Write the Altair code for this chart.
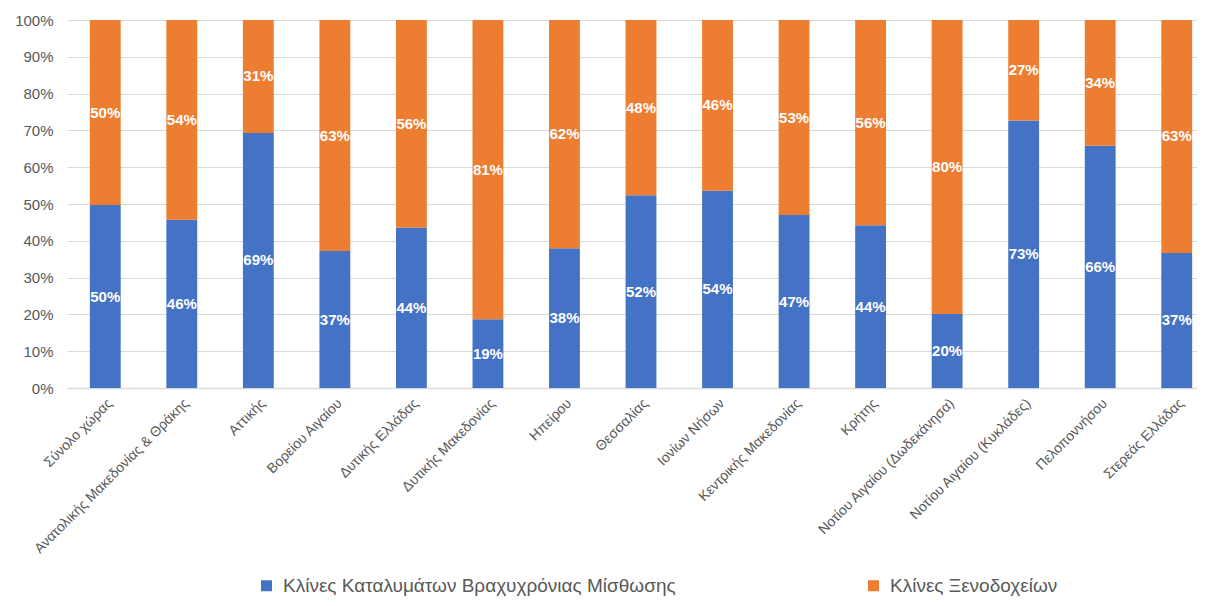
import altair as alt
import pandas as pd

regions = [
    "Σύνολο χώρας",
    "Ανατολικής Μακεδονίας & Θράκης",
    "Αττικής",
    "Βορείου Αιγαίου",
    "Δυτικής Ελλάδας",
    "Δυτικής Μακεδονίας",
    "Ηπείρου",
    "Θεσσαλίας",
    "Ιονίων Νήσων",
    "Κεντρικής Μακεδονίας",
    "Κρήτης",
    "Νοτίου Αιγαίου (Δωδεκάνησα)",
    "Νοτίου Αιγαίου (Κυκλάδες)",
    "Πελοποννήσου",
    "Στερεάς Ελλάδας",
]
short_term = [0.497, 0.457, 0.693, 0.372, 0.436, 0.187, 0.380, 0.524,
              0.536, 0.470, 0.442, 0.201, 0.727, 0.658, 0.367]
hotels = [0.503, 0.543, 0.307, 0.628, 0.564, 0.813, 0.620, 0.476,
          0.464, 0.530, 0.558, 0.799, 0.273, 0.342, 0.633]

series_names = ["Κλίνες Καταλυμάτων Βραχυχρόνιας Μίσθωσης", "Κλίνες Ξενοδοχείων"]
series_colors = ["#4472C4", "#ED7D31"]
y_ticks = [0.0, 0.1, 0.2, 0.3, 0.4, 0.5, 0.6, 0.7, 0.8, 0.9, 1.0]

rows = []
for r, a, b in zip(regions, short_term, hotels):
    rows.append({"region": r, "series": series_names[0], "value": a, "ord": 0})
    rows.append({"region": r, "series": series_names[1], "value": b, "ord": 1})
df = pd.DataFrame(rows)

FONT = "Liberation Sans"
GREY = "#595959"
X_RANGE = [0, 1148]

x_scale = alt.Scale(range=X_RANGE, paddingInner=0.597, paddingOuter=0.2985)
y_scale = alt.Scale(domain=[0, 1], nice=False)

x_axis = alt.Axis(labelAngle=-45, labelFontSize=14, labelColor=GREY, labelFont=FONT,
                  ticks=False, domainColor="#D9D9D9", domainWidth=1.5, title=None,
                  labelPadding=8, labelLimit=400, grid=False, labelOverlap=False)
y_axis = alt.Axis(format=".0%", values=y_ticks, title=None,
                  labelFontSize=15, labelColor=GREY, labelFont=FONT,
                  labelOverlap=False,
                  ticks=False, domain=False, labelPadding=14,
                  gridColor="#D9D9D9", gridWidth=1)

bars = alt.Chart(df).mark_bar().encode(
    x=alt.X("region:N", sort=regions, title=None, scale=x_scale, axis=x_axis),
    y=alt.Y("value:Q", stack="zero", title=None, scale=y_scale, axis=y_axis),
    color=alt.Color("series:N",
                    scale=alt.Scale(domain=series_names, range=series_colors),
                    legend=alt.Legend(title=None, orient="none", direction="horizontal",
                                      legendX=190, legendY=556,
                                      symbolType="square", symbolSize=121,
                                      symbolStrokeWidth=0,
                                      labelFontSize=19, labelColor=GREY, labelFont=FONT,
                                      labelLimit=700, columnPadding=188, labelOffset=7)),
    order=alt.Order("ord:Q", sort="ascending"),
)

labels = alt.Chart(df).transform_stack(
    stack="value", groupby=["region"], as_=["v0", "v1"],
    sort=[alt.SortField("ord", order="ascending")],
).transform_calculate(
    mid="(datum.v0 + datum.v1) / 2"
).mark_text(color="white", fontWeight="bold", fontSize=15, font=FONT, baseline="middle").encode(
    x=alt.X("region:N", sort=regions, title=None, scale=x_scale, axis=x_axis),
    y=alt.Y("mid:Q", title=None, scale=y_scale, axis=y_axis),
    text=alt.Text("value:Q", format=".0%"),
)

chart = alt.layer(bars, labels).properties(
    width=1130,
    height=368,
    autosize=alt.AutoSizeParams(type="none"),
    padding={"left": 59, "top": 12, "right": 0, "bottom": 210},
).configure(
    font=FONT, background="white", view=alt.ViewConfig(stroke=None)
)

chart.save("out.html", embed_options={"renderer": "svg", "actions": False})
